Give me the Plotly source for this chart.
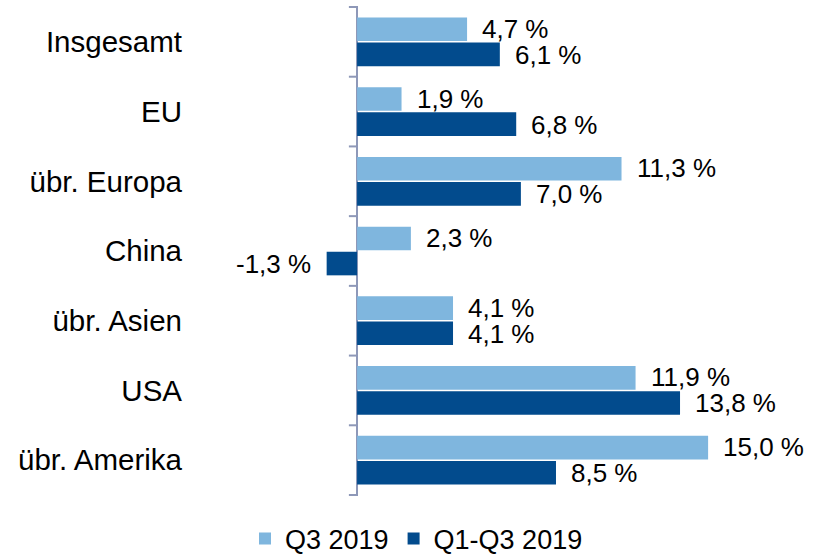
import plotly.graph_objects as go

categories = ["Insgesamt", "EU", "übr. Europa", "China", "übr. Asien", "USA", "übr. Amerika"]
q3_2019 = [4.7, 1.9, 11.3, 2.3, 4.1, 11.9, 15.0]
q1_q3_2019 = [6.1, 6.8, 7.0, -1.3, 4.1, 13.8, 8.5]
series_names = ["Q3 2019", "Q1-Q3 2019"]

LIGHT = "#7FB6DE"
DARK = "#024B8D"
AXIS = "#8E98B8"
FONT = "Liberation Sans, Arial, sans-serif"

fig = go.Figure()
fig.add_trace(go.Bar(y=categories, x=q3_2019, orientation="h", name=series_names[0],
                     marker=dict(color=LIGHT, line=dict(width=0))))
fig.add_trace(go.Bar(y=categories, x=q1_q3_2019, orientation="h", name=series_names[1],
                     marker=dict(color=DARK, line=dict(width=0))))

def fmt(v):
    return f"{v:.1f}".replace(".", ",") + " %"

annotations = []
for vals, ysh in ((q3_2019, 13), (q1_q3_2019, -13)):
    for cat, v in zip(categories, vals):
        annotations.append(dict(
            x=v, y=cat, xref="x", yref="y", text=fmt(v), showarrow=False,
            xanchor="left" if v >= 0 else "right", xshift=13 if v >= 0 else -14,
            yshift=ysh, font=dict(size=26, color="#000000", family=FONT)))

shapes = []
for i in range(len(categories) + 1):
    shapes.append(dict(type="line", xref="x", yref="y", x0=-0.35, x1=0,
                       y0=i - 0.5, y1=i - 0.5, line=dict(color=AXIS, width=2)))

fig.update_layout(
    width=823, height=554,
    margin=dict(l=186, r=40, t=6, b=58, autoexpand=False),
    paper_bgcolor="white", plot_bgcolor="white",
    barmode="group", bargap=0.28, bargroupgap=0.06,
    font=dict(family=FONT, color="#000000"),
    annotations=annotations, shapes=shapes,
    showlegend=True,
    legend=dict(orientation="h", xref="container", x=245 / 823, xanchor="left",
                yref="container", y=(554 - 539) / 554, yanchor="middle",
                font=dict(size=27, family=FONT, color="#000000"),
                traceorder="normal"),
    xaxis=dict(range=[-7.31, 18.2], showticklabels=False, showgrid=False, automargin=False,
               zeroline=True, zerolinecolor=AXIS, zerolinewidth=2, fixedrange=True),
    yaxis=dict(autorange="reversed", showgrid=False, showline=False, ticks="", automargin=False,
               ticklabelstandoff=3, tickfont=dict(size=29.5, family=FONT, color="#000000")),
)

fig.write_html("out.html", config={"displayModeBar": False},
               post_script="document.body.style.margin='0';document.body.style.padding='0';")
